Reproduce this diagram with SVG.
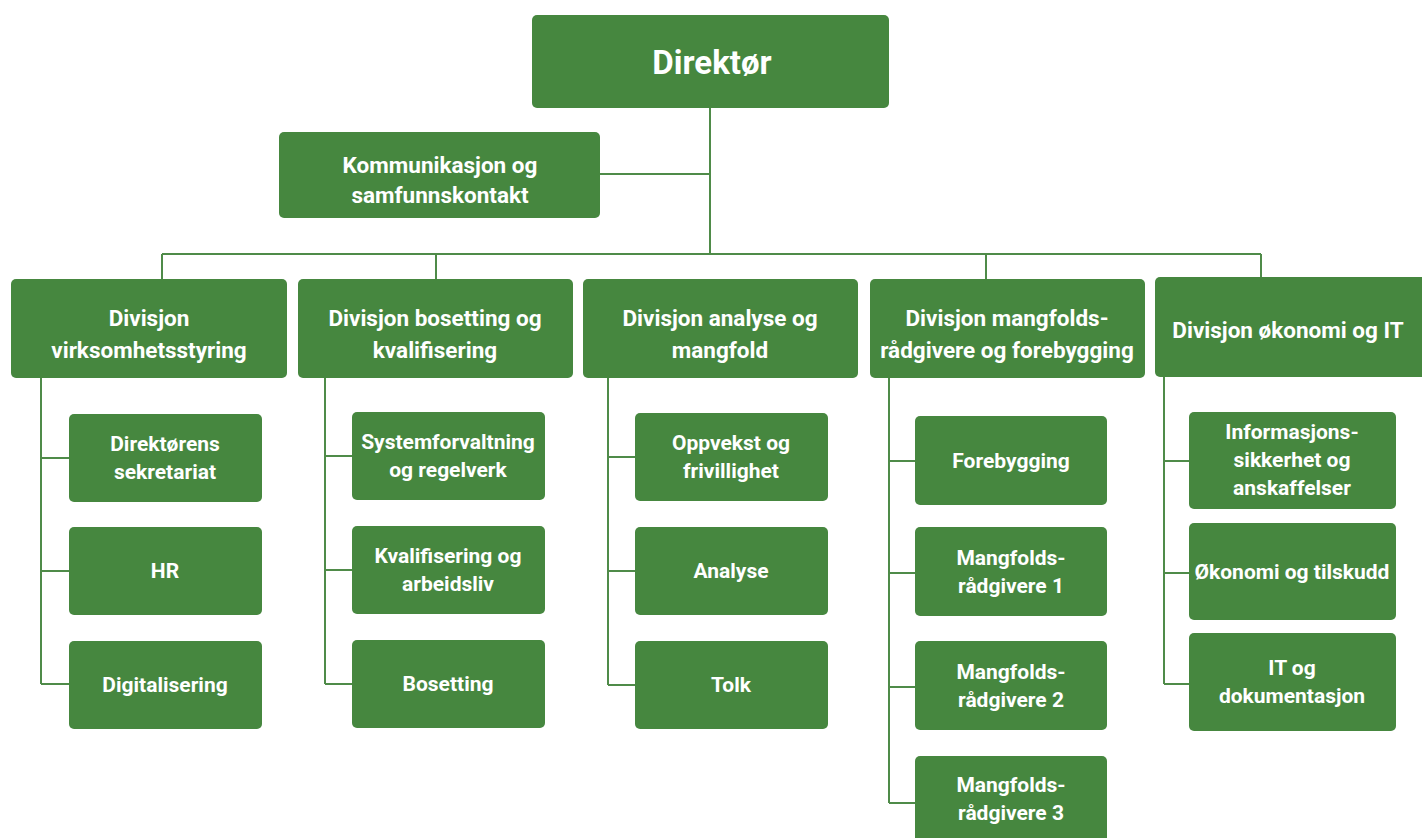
<svg xmlns="http://www.w3.org/2000/svg" width="1422" height="838" viewBox="0 0 1422 838">
<style>
.box{fill:#46873f;}
.t{fill:#ffffff;font-family:Roboto,"Liberation Sans",sans-serif;font-weight:bold;text-anchor:middle;}
.t1{font-size:33px;}
.t2{font-size:22.5px;}
.t3{font-size:21px;}
.c{stroke:#4f8b49;stroke-width:2;fill:none;}
</style>
<rect width="1422" height="838" fill="#ffffff"/>
<g id="connectors" class="c">
<path d="M710 108V254M600 174H710M162 254H1261M162 254V279M436 254V279M986 254V279M1261 254V277"/>
<path d="M41 378V684M41 458H69M41 571H69M41 684H69"/>
<path d="M325 378V684M325 456H352M325 570H352M325 684H352"/>
<path d="M608 378V685M608 457H635M608 571H635M608 685H635"/>
<path d="M889 378V803M889 461H915M889 573H915M889 687H915M889 803H915"/>
<path d="M1164 377V684M1164 461H1189M1164 573H1189M1164 684H1189"/>
</g>
<g id="direktor"><rect class="box" x="532" y="15" width="357" height="93" rx="5"/><text class="t t1" x="712" y="74">Direktør</text></g>
<g id="kommunikasjon"><rect class="box" x="279" y="132" width="321" height="86" rx="5"/><text class="t t2" x="440" y="173">Kommunikasjon og</text><text class="t t2" x="440" y="203">samfunnskontakt</text></g>
<g id="div-virksomhet"><rect class="box" x="11" y="279" width="276" height="99" rx="5"/><text class="t t2" x="149" y="326">Divisjon</text><text class="t t2" x="149" y="358">virksomhetsstyring</text></g>
<g id="div-bosetting"><rect class="box" x="298" y="279" width="275" height="99" rx="5"/><text class="t t2" x="435" y="326">Divisjon bosetting og</text><text class="t t2" x="435" y="358">kvalifisering</text></g>
<g id="div-analyse"><rect class="box" x="583" y="279" width="275" height="99" rx="5"/><text class="t t2" x="720" y="326">Divisjon analyse og</text><text class="t t2" x="720" y="358">mangfold</text></g>
<g id="div-mangfold"><rect class="box" x="870" y="279" width="275" height="99" rx="5"/><text class="t t2" x="1007" y="326">Divisjon mangfolds-</text><text class="t t2" x="1007" y="358">rådgivere og forebygging</text></g>
<g id="div-okonomi"><rect class="box" x="1155" y="277" width="272" height="100" rx="5"/><text class="t t2" x="1288" y="338">Divisjon økonomi og IT</text></g>
<g id="direktorens-sekretariat"><rect class="box" x="69" y="414" width="193" height="88" rx="5"/><text class="t t3" x="165" y="451">Direktørens</text><text class="t t3" x="165" y="479">sekretariat</text></g>
<g id="hr"><rect class="box" x="69" y="527" width="193" height="88" rx="5"/><text class="t t3" x="165" y="578">HR</text></g>
<g id="digitalisering"><rect class="box" x="69" y="641" width="193" height="88" rx="5"/><text class="t t3" x="165" y="692">Digitalisering</text></g>
<g id="systemforvaltning"><rect class="box" x="352" y="412" width="193" height="88" rx="5"/><text class="t t3" x="448" y="449">Systemforvaltning</text><text class="t t3" x="448" y="477">og regelverk</text></g>
<g id="kvalifisering"><rect class="box" x="352" y="526" width="193" height="88" rx="5"/><text class="t t3" x="448" y="563">Kvalifisering og</text><text class="t t3" x="448" y="591">arbeidsliv</text></g>
<g id="bosetting"><rect class="box" x="352" y="640" width="193" height="88" rx="5"/><text class="t t3" x="448" y="691">Bosetting</text></g>
<g id="oppvekst"><rect class="box" x="635" y="413" width="193" height="88" rx="5"/><text class="t t3" x="731" y="450">Oppvekst og</text><text class="t t3" x="731" y="478">frivillighet</text></g>
<g id="analyse"><rect class="box" x="635" y="527" width="193" height="88" rx="5"/><text class="t t3" x="731" y="578">Analyse</text></g>
<g id="tolk"><rect class="box" x="635" y="641" width="193" height="88" rx="5"/><text class="t t3" x="731" y="692">Tolk</text></g>
<g id="forebygging"><rect class="box" x="915" y="416" width="192" height="89" rx="5"/><text class="t t3" x="1011" y="468">Forebygging</text></g>
<g id="mangfold1"><rect class="box" x="915" y="527" width="192" height="89" rx="5"/><text class="t t3" x="1011" y="565">Mangfolds-</text><text class="t t3" x="1011" y="593">rådgivere 1</text></g>
<g id="mangfold2"><rect class="box" x="915" y="641" width="192" height="89" rx="5"/><text class="t t3" x="1011" y="679">Mangfolds-</text><text class="t t3" x="1011" y="707">rådgivere 2</text></g>
<g id="mangfold3"><rect class="box" x="915" y="756" width="192" height="89" rx="5"/><text class="t t3" x="1011" y="792">Mangfolds-</text><text class="t t3" x="1011" y="820">rådgivere 3</text></g>
<g id="informasjonssikkerhet"><rect class="box" x="1189" y="412" width="207" height="97" rx="5"/><text class="t t3" x="1292" y="439">Informasjons-</text><text class="t t3" x="1292" y="467">sikkerhet og</text><text class="t t3" x="1292" y="495">anskaffelser</text></g>
<g id="okonomi-tilskudd"><rect class="box" x="1189" y="523" width="207" height="97" rx="5"/><text class="t t3" x="1292" y="579">Økonomi og tilskudd</text></g>
<g id="it-dokumentasjon"><rect class="box" x="1189" y="633" width="207" height="98" rx="5"/><text class="t t3" x="1292" y="675">IT og</text><text class="t t3" x="1292" y="703">dokumentasjon</text></g>
</svg>
